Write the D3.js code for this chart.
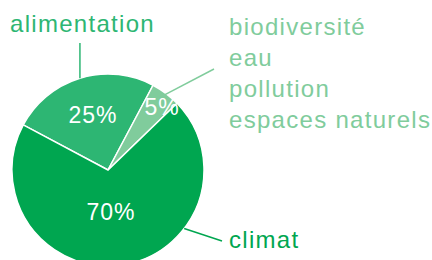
<!DOCTYPE html>
<html>
<head>
<meta charset="utf-8">
<script src="https://cdn.jsdelivr.net/npm/d3@7"></script>
<style>
  body { margin: 0; background: #fff; }
  text { font-family: "Liberation Sans", Arial, sans-serif; }
</style>
</head>
<body>
<svg id="chart"></svg>
<script>
// slices, in drawing order (clockwise from the top-left)
var categories = ["alimentation", "autres", "climat"]
var values = [25, 5, 70]
var pctLabels = ["25%", "5%", "70%"]
var colors = ["#2db673", "#80cc9c", "#00a650"]

// outside labels
var otherLabels = ["biodiversité", "eau", "pollution", "espaces naturels"]

var screen = {width: 432, height: 260}
var center = {x: 108, y: 170}
var radius = 96

var svg = d3.select("#chart")
  .attr("width", screen.width)
  .attr("height", screen.height)

var pie = d3.pie()
  .sort(null)
  .value(function(d) { return d })
  .startAngle(-62 * Math.PI / 180)
  .endAngle(-62 * Math.PI / 180 + 2 * Math.PI)

var arcs = pie(values)

var arc = d3.arc()
  .innerRadius(0)
  .outerRadius(radius)

var g = svg.append("g")
  .attr("transform", "translate(" + center.x + "," + center.y + ")")

g.selectAll("path")
  .data(arcs)
  .enter()
  .append("path")
  .attr("d", arc)
  .attr("fill", function(d, i) { return colors[i] })
  .attr("stroke", "#fff")
  .attr("stroke-width", 1.5)

// percent labels inside the slices
var pctPos = [
  {x: -15, y: -47},
  {x: 54, y: -55},
  {x: 3, y: 50}
]
g.selectAll("text.pct")
  .data(arcs)
  .enter()
  .append("text")
  .attr("class", "pct")
  .attr("x", function(d, i) { return pctPos[i].x })
  .attr("y", function(d, i) { return pctPos[i].y })
  .attr("text-anchor", "middle")
  .attr("fill", "#fff")
  .attr("font-size", 23)
  .attr("letter-spacing", 1)
  .text(function(d, i) { return pctLabels[i] })

// point on the rim at a given angle
var rim = function(a, r) {
  return [Math.sin(a) * (r || radius), -Math.cos(a) * (r || radius)]
}
var mid = function(d) { return (d.startAngle + d.endAngle) / 2 }

// leader: alimentation (vertical up from the rim)
var pA = rim(mid(arcs[0]))
g.append("line")
  .attr("x1", pA[0]).attr("y1", pA[1])
  .attr("x2", pA[0]).attr("y2", 43 - center.y)
  .attr("stroke", colors[0]).attr("stroke-width", 1.5)

// leader: small slice
var pB = rim(mid(arcs[1]), radius - 2)
g.append("line")
  .attr("x1", pB[0]).attr("y1", pB[1])
  .attr("x2", 214 - center.x).attr("y2", 69 - center.y)
  .attr("stroke", colors[1]).attr("stroke-width", 1.5)

// leader: climat
var pC = rim(127.5 * Math.PI / 180)
g.append("line")
  .attr("x1", pC[0]).attr("y1", pC[1])
  .attr("x2", 222 - center.x).attr("y2", 241 - center.y)
  .attr("stroke", colors[2]).attr("stroke-width", 1.5)

// outside text
svg.append("text")
  .attr("x", 10).attr("y", 32)
  .attr("font-size", 24)
  .attr("letter-spacing", 1.3)
  .attr("fill", colors[0])
  .text(categories[0])

svg.selectAll("text.other")
  .data(otherLabels)
  .enter()
  .append("text")
  .attr("class", "other")
  .attr("x", 229)
  .attr("y", function(d, i) { return 35 + i * 31 })
  .attr("font-size", 24)
  .attr("letter-spacing", 1.3)
  .attr("fill", colors[1])
  .text(function(d) { return d })

svg.append("text")
  .attr("x", 229).attr("y", 248)
  .attr("font-size", 24)
  .attr("letter-spacing", 1.3)
  .attr("fill", colors[2])
  .text(categories[2])
</script>
</body>
</html>
